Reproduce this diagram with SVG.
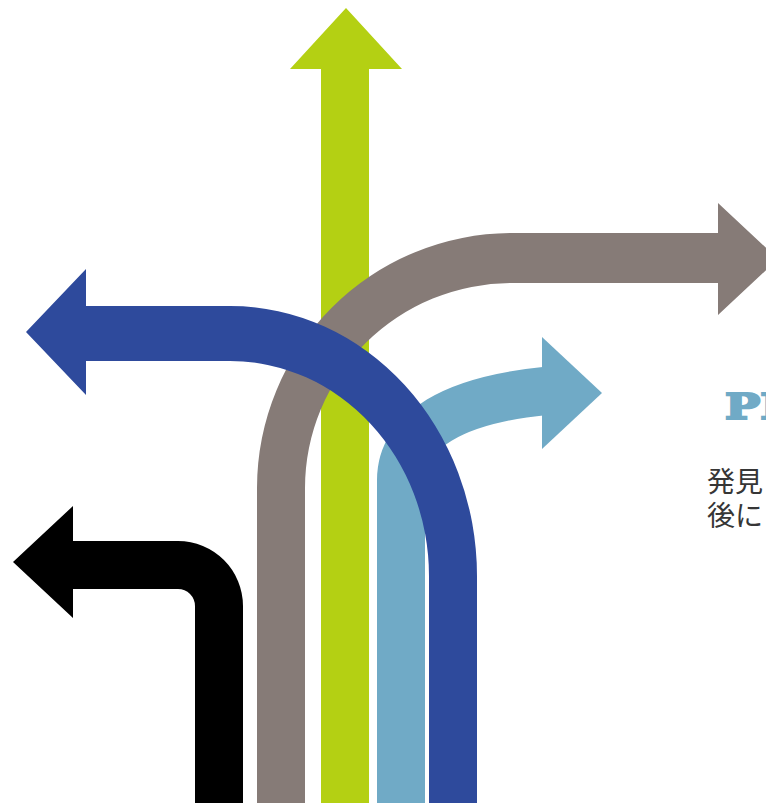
<svg xmlns="http://www.w3.org/2000/svg" width="766" height="803" viewBox="0 0 766 803">
  <style>
    .green { fill: #b4d013; }
    .gray { fill: #867b77; }
    .lblue { fill: #70aac6; }
    .blue { fill: #2e4a9c; }
    .black { fill: #000000; }
    .title { font-family: "DejaVu Serif", "Liberation Serif", serif; font-weight: bold; font-size: 36px; fill: #70aac6; stroke: #70aac6; stroke-width: 2.2px; stroke-linejoin: miter; }
    .body { font-family: "Noto Sans CJK JP", "Noto Sans", sans-serif; font-size: 28px; fill: #363636; }
  </style>
  <rect width="766" height="803" fill="#ffffff"/>
  <g id="connectors">
    <g id="arrow-green">
      <path class="green" d="M321 803 L321 69 L290 69 L346 8 L402 69 L369 69 L369 803 Z"/>
    </g>
    <g id="arrow-gray">
      <path class="gray" d="M257 803 L257 488 A255 255 0 0 1 512 233 L718 233 L718 203 L778 259 L718 315 L718 283 L512 283 A207 205 0 0 0 305 488 L305 803 Z"/>
    </g>
    <g id="arrow-lightblue">
      <path d="M401 803 L401 480 C401 430 455 400 545 391" fill="none" stroke="#70aac6" stroke-width="48"/>
      <path class="lblue" d="M542 337 L602 393 L542 449 Z"/>
    </g>
    <g id="arrow-blue">
      <path class="blue" d="M477 803 L477 576 A247 270 0 0 0 230 306 L86 306 L86 269 L26 332 L86 395 L86 361 L230 361 A199 215 0 0 1 429 576 L429 803 Z"/>
    </g>
    <g id="arrow-black">
      <path class="black" d="M243 803 L243 606 A65 65 0 0 0 178 541 L73 541 L73 506 L13 562 L73 618 L73 589 L178 589 A17 17 0 0 1 195 606 L195 803 Z"/>
    </g>
  </g>
  <g id="label">
    <text class="title" transform="translate(725 419) scale(1.3 1)" x="0" y="0">PR</text>
    <text class="body" x="707" y="492">発見</text>
    <text class="body" x="707" y="526">後に</text>
  </g>
</svg>
